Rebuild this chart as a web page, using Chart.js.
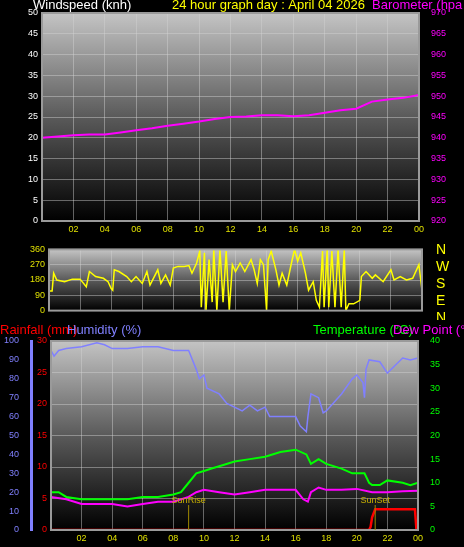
<!DOCTYPE html>
<html><head><meta charset="utf-8">
<script src="https://cdn.jsdelivr.net/npm/chart.js@4.4.1/dist/chart.umd.min.js"></script>
<style>
body{margin:0;background:#000;width:464px;height:547px;overflow:hidden;position:relative}
canvas{position:absolute;left:0}
</style></head><body>
<canvas id="top" width="464" height="240" style="top:0"></canvas>
<canvas id="mid" width="464" height="80" style="top:240px"></canvas>
<canvas id="bot" width="464" height="227" style="top:320px"></canvas>
<script>
// hours of the day
const baroHours = [0,1,2,3,4,5,6,7,8,9,10,11,12,13,14,15,16,17,18,19,20,21,22,23,24];
const baroValues = [940,940.3,940.6,940.8,940.8,941.3,941.8,942.3,942.9,943.4,943.9,944.5,945,945.1,945.4,945.4,945.2,945.4,946,946.6,947,948.7,949.2,949.6,950.3];
const windHours = [0,24];
const windValues = [0,0];

const dirHours = [0,0.2,0.3,0.5,1,1.5,2,2.4,2.5,2.6,3,3.5,3.8,4,4.1,4.2,4.5,5,5.3,5.6,6,6.3,6.5,7,7.2,7.5,7.8,8,8.3,8.7,9,9.2,9.5,9.7,9.8,10,10.1,10.3,10.5,10.6,10.8,11,11.2,11.4,11.6,11.8,12,12.3,12.6,13,13.2,13.4,13.6,13.8,14,14.1,14.3,14.6,14.8,15,15.3,15.6,15.8,16,16.2,16.5,16.7,17,17.2,17.4,17.6,17.7,17.9,18,18.2,18.4,18.6,18.8,19,19.1,19.3,19.6,20,20.1,20.4,20.8,21,21.5,22,22.2,22.6,23,23.4,23.8,24];
const dirValues = [115,115,220,180,170,185,185,140,185,230,200,190,170,130,120,240,230,200,170,200,160,230,150,240,160,210,150,250,260,260,265,220,280,350,20,340,0,300,50,360,0,360,50,350,0,270,230,280,230,300,240,160,300,270,0,300,350,240,150,220,150,280,360,290,340,220,120,170,60,20,350,20,360,20,350,20,360,20,360,0,40,40,60,200,230,190,210,170,240,180,200,180,190,270,120];

const humHours = [0,0.2,0.5,1,2,3,3.5,4,5,6,7,8,9,9.5,9.7,10,10.2,11,11.5,12,12.5,13,13.5,14,14.3,15,15.5,16,16.3,16.7,16.8,17,17.5,17.8,18,19,19.7,20,20.4,20.5,20.6,20.8,21.5,22,22.5,23,23.5,24];
const humValues = [95,92,95,96,97,99,98,96,96,97,97,95,95,85,80,82,75,72,67,65,63,66,63,65,60,60,60,60,55,52,60,72,70,62,63,72,80,82,78,70,85,90,89,83,87,91,90,91];
const tempHours = [0,0.5,1,2,3,4,5,6,7,8,8.5,9,9.5,10,10.5,11,12,13,14,15,16,16.7,17,17.5,18,19,19.7,20,20.5,20.8,21,21.5,22,23,23.5,24];
const tempValues = [8,8,7,6.5,6.5,6.5,6.5,7,7,7.5,8,10,12,12.5,13,13.5,14.5,15,15.5,16.5,17,16,14,15,14,13,12,12,12,10,9.5,9.5,10.5,10,9.5,10];
const dewHours = [0,1,2,3,4,5,6,7,8,9,9.5,10,11,12,13,14,15,16,16.5,16.8,17,17.5,18,19,20,21,22,23,24];
const dewValues = [7,6.5,5.5,5.5,5.5,5,5.5,6,6,7,8,8.5,8,7.5,8,8.5,8.5,8.5,6.5,6,8,9,8.5,8.5,8.7,8,8,8.2,8.3];
const rainHours = [0,20.8,20.9,21,21.2,21.5,23.8,23.9,24];
const rainValues = [0,0,0.5,2,3.3,3.3,3.3,0,0];
const sunRise = 9.0, sunSet = 21.2;

const xyOf = (hs, vs) => hs.map((h, i) => ({x: h, y: vs[i]}));
const hourLabel = v => (v === 0 ? '' : String(v % 24).padStart(2, '0'));
const tickFont = {family: 'Liberation Sans', size: 9};

const bgPlugin = {
    id: 'bg',
    beforeDraw(c) {
        const a = c.chartArea, ctx = c.ctx;
        const g = ctx.createLinearGradient(0, a.top, 0, a.bottom);
        g.addColorStop(0, '#c4c4c4'); g.addColorStop(0.5, '#5a5a5a'); g.addColorStop(1, '#000');
        ctx.save(); ctx.fillStyle = g; ctx.fillRect(a.left, a.top, a.right - a.left, a.bottom - a.top); ctx.restore();
    },
    afterDraw(c) {
        const a = c.chartArea, ctx = c.ctx;
        ctx.save(); ctx.strokeStyle = '#9a9a9a'; ctx.lineWidth = 2;
        ctx.strokeRect(a.left, a.top, a.right - a.left, a.bottom - a.top);
        const t = c.options.plugins.texts || [];
        t.forEach(s => { ctx.font = s.font || '13px Liberation Sans'; ctx.fillStyle = s.c; ctx.textBaseline = 'alphabetic'; ctx.fillText(s.t, s.x, s.y); });
        (c.options.plugins.sunMarks || []).forEach(m => {
            const x = c.scales.x.getPixelForValue(m.h);
            ctx.strokeStyle = '#a08a00'; ctx.lineWidth = 1;
            ctx.beginPath(); ctx.moveTo(x, a.bottom); ctx.lineTo(x, a.bottom - 25); ctx.stroke();
            ctx.font = '9px Liberation Sans'; ctx.fillStyle = '#c8b000'; ctx.textAlign = 'center';
            ctx.fillText(m.t, x, a.bottom - 27);
        });
        ctx.restore();
    }
};

const gridDots = {color: 'rgba(210,210,210,0.45)', borderDash: [1, 2], drawTicks: false};
const fixW = w => s => { s.width = w; };
const fixH = h => s => { s.height = h; };

function xAxis(show, h) {
    return {type: 'linear', min: 0, max: 24, afterFit: fixH(h),
        ticks: {display: show, stepSize: 2, color: '#e0e000', font: tickFont, callback: hourLabel, maxRotation: 0, padding: 3},
        grid: gridDots, border: {display: false}};
}
function yAxis(pos, min, max, step, color, w, extra) {
    return Object.assign({position: pos, min: min, max: max, afterFit: fixW(w),
        ticks: {stepSize: step, color: color, font: tickFont, padding: 4},
        grid: {display: false}, border: {color: color, width: 1}}, extra || {});
}
const line = (data, color, axis, w) => ({data: data, borderColor: color, borderWidth: w || 1.5, pointRadius: 0, yAxisID: axis, tension: 0});
const base = {responsive: false, animation: false, parsing: true};

new Chart(document.getElementById('top'), {
    type: 'line',
    data: {datasets: [line(xyOf(baroHours, baroValues), '#ff00ff', 'yB', 2), line(xyOf(windHours, windValues), '#90ee90', 'yW', 2)]},
    options: Object.assign({}, base, {
        layout: {padding: {top: 13, left: 0, right: 0, bottom: 0}},
        plugins: {legend: {display: false}, tooltip: {enabled: false},
            texts: [{t: 'Windspeed (knh)', x: 33, y: 9, c: '#fff'}, {t: '24 hour graph day : April 04 2026', x: 172, y: 9, c: '#ffff00'}, {t: 'Barometer (hpa', x: 372, y: 9, c: '#ff00ff'}]},
        scales: {
            x: xAxis(true, 19),
            yW: Object.assign(yAxis('left', 0, 50, 5, '#fff', 42), {grid: gridDots}),
            yB: yAxis('right', 920, 970, 5, '#ff00ff', 45)
        }
    }),
    plugins: [bgPlugin]
});

new Chart(document.getElementById('mid'), {
    type: 'line',
    data: {datasets: [line(xyOf(dirHours, dirValues), '#ffff00', 'yD', 1.5)]},
    options: Object.assign({}, base, {
        layout: {padding: {top: 4, right: 0, bottom: 0}},
        plugins: {legend: {display: false}, tooltip: {enabled: false},
            texts: ['N', 'W', 'S', 'E', 'N'].map((s, i) => ({t: s, x: 436, y: 14 + i * 17, c: '#ffff00', font: '14px Liberation Sans'}))},
        scales: {
            x: xAxis(false, 7),
            yD: Object.assign(yAxis('left', 0, 360, 90, '#e0e000', 49), {grid: gridDots}),
            yR: {position: 'right', display: true, afterFit: fixW(42), ticks: {display: false}, grid: {display: false}, border: {display: false}}
        }
    }),
    plugins: [bgPlugin]
});

new Chart(document.getElementById('bot'), {
    type: 'line',
    data: {datasets: [
        line(xyOf(humHours, humValues), '#8080ff', 'yH', 1.5),
        line(xyOf(tempHours, tempValues), '#00ff00', 'yT', 2),
        line(xyOf(dewHours, dewValues), '#ff00ff', 'yT', 2),
        line(xyOf(rainHours, rainValues), '#ff0000', 'yR', 2.5)
    ]},
    options: Object.assign({}, base, {
        layout: {padding: {top: 21, right: 0, bottom: 0}},
        plugins: {legend: {display: false}, tooltip: {enabled: false},
            texts: [{t: 'Rainfall (mm)', x: 0, y: 14, c: '#ff0000'}, {t: 'Humidity (%)', x: 67, y: 14, c: '#8080ff'},
                    {t: 'Temperature (°C)', x: 313, y: 14, c: '#00ff00'}, {t: 'Dew Point (°', x: 393, y: 14, c: '#ff00ff'}],
            sunMarks: [{h: sunRise, t: 'SunRise'}, {h: sunSet, t: 'SunSet'}]},
        scales: {
            x: xAxis(true, 17),
            yH: Object.assign(yAxis('left', 0, 100, 10, '#8080ff', 31), {weight: 2, border: {color: '#8080ff', width: 3}}),
            yR: Object.assign(yAxis('left', 0, 30, 5, '#ff0000', 20), {weight: 1, grid: gridDots}),
            yT: yAxis('right', 0, 40, 5, '#00ff00', 46)
        }
    }),
    plugins: [bgPlugin]
});
</script>
</body></html>
